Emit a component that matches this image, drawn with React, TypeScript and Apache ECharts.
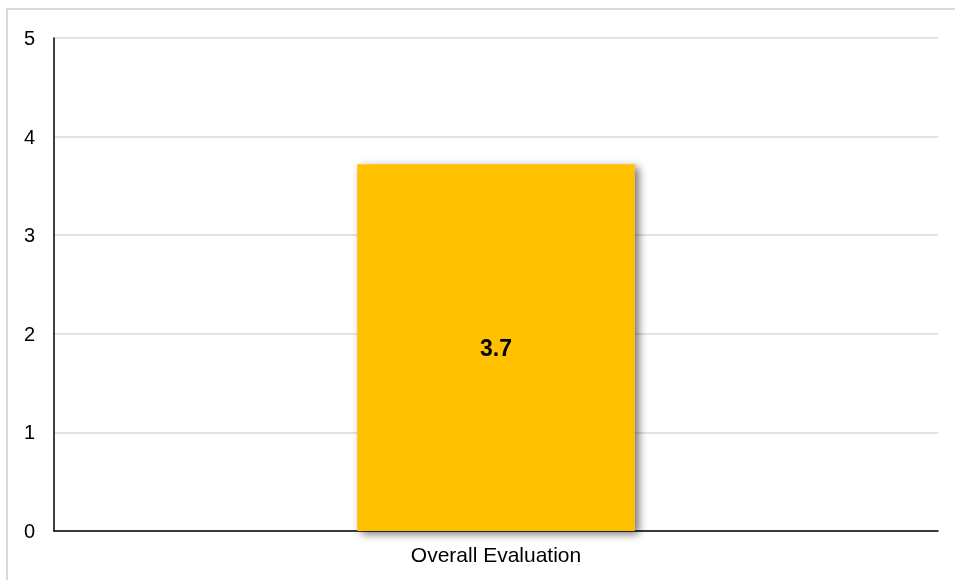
import React, { useEffect, useRef } from "react";
import * as echarts from "echarts";

const categories = ["Overall Evaluation"];
const values = [3.72];
const yTicks = [0, 1, 2, 3, 4, 5];

const FONT = "'Liberation Sans', Arial, Helvetica, sans-serif";

export default function App() {
  const ref = useRef<HTMLDivElement>(null);
  useEffect(() => {
    if (!ref.current) return;
    const chart = echarts.init(ref.current, undefined, { renderer: "svg" });
    chart.setOption({
      animation: false,
      backgroundColor: "transparent",
      grid: { left: 54, top: 38, right: 17, bottom: 49, containLabel: false },
      xAxis: {
        type: "category",
        data: categories,
        axisLine: { show: true, lineStyle: { color: "#000", width: 1.5 } },
        axisTick: { show: false },
        axisLabel: { color: "#000", fontSize: 21, fontFamily: FONT, margin: 13 },
      },
      yAxis: {
        type: "value",
        min: yTicks[0],
        max: yTicks[yTicks.length - 1],
        interval: 1,
        axisLine: { show: true, lineStyle: { color: "#000", width: 1.5 } },
        axisTick: { show: false },
        axisLabel: { color: "#000", fontSize: 20, fontFamily: FONT, margin: 19 },
        splitLine: { show: true, lineStyle: { color: "#d9d9d9", width: 1.5 } },
      },
      series: [
        {
          type: "bar",
          data: values,
          barWidth: "31.4%",
          itemStyle: {
            color: "#FFC000",
            shadowColor: "rgba(0,0,0,0.55)",
            shadowBlur: 8,
            shadowOffsetX: 4,
            shadowOffsetY: 3,
          },
          label: {
            show: true,
            position: "inside",
            color: "#000",
            fontWeight: "bold",
            fontSize: 23,
            fontFamily: FONT,
            formatter: (p: any) => Number(p.value).toFixed(1),
          },
        },
      ],
    });
    return () => chart.dispose();
  }, []);
  return (
    <>
      <div
        style={{
          position: "fixed",
          left: 6,
          top: 8,
          width: 955,
          height: 580,
          boxSizing: "border-box",
          border: "2px solid #d9d9d9",
        }}
      />
      <div
        ref={ref}
        style={{ position: "fixed", left: 0, top: 0, width: 955, height: 580 }}
      />
    </>
  );
}
